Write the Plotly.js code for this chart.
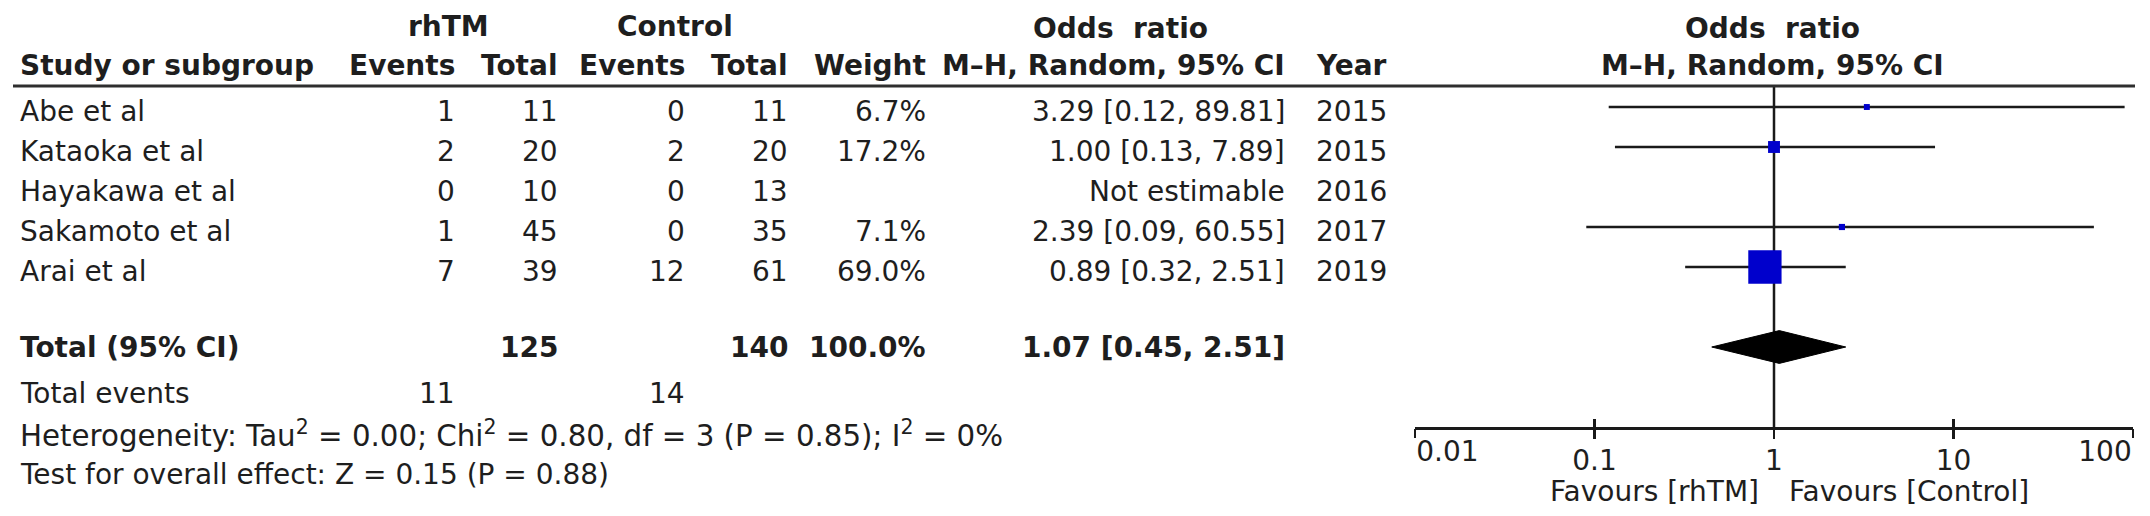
<!DOCTYPE html>
<html>
<head>
<meta charset="utf-8">
<script src="https://cdn.plot.ly/plotly-3.0.1.min.js"></script>
<style>html,body{margin:0;padding:0;background:#fff;}#chart{width:2150px;height:516px;}</style>
</head>
<body>
<div id="chart"></div>
<script>
// ---------------- data ----------------
const studies    = ['Abe et al', 'Kataoka et al', 'Hayakawa et al', 'Sakamoto et al', 'Arai et al'];
const rhtmEvents = [1, 2, 0, 1, 7];
const rhtmTotal  = [11, 20, 10, 45, 39];
const ctrlEvents = [0, 2, 0, 0, 12];
const ctrlTotal  = [11, 20, 13, 35, 61];
const weights    = [6.7, 17.2, null, 7.1, 69.0];
const orEst      = [3.29, 1.00, null, 2.39, 0.89];
const orLo       = [0.12, 0.13, null, 0.09, 0.32];
const orHi       = [89.81, 7.89, null, 60.55, 2.51];
const years      = [2015, 2015, 2016, 2017, 2019];

const totalLabel    = 'Total (95% CI)';
const totalRhtm     = 125;
const totalCtrl     = 140;
const totalWeight   = 100.0;
const pooledOR      = [1.07, 0.45, 2.51];   // estimate, lower, upper
const eventsRhtm    = 11;
const eventsCtrl    = 14;
const heterogeneity = 'Heterogeneity: Tau<sup>2</sup> = 0.00; Chi<sup>2</sup> = 0.80, df = 3 (P = 0.85); I<sup>2</sup> = 0%';
const overallTest   = 'Test for overall effect: Z = 0.15 (P = 0.88)';

const tickVals   = [0.01, 0.1, 1, 10, 100];
const tickLabels = ['0.01', '0.1', '1', '10', '100'];
const favourLeft  = 'Favours [rhTM]';
const favourRight = 'Favours [Control]';
const effectTitle = 'Odds\u00a0 ratio';
const methodTitle = 'M\u2013H, Random, 95% CI';

// ---------------- layout helpers ----------------
const W = 2150, H = 516;
const ROWPX = 40, ROW0 = 1.675;              // y value r sits at pixel 40*(r+1.675)
const FONT = 'DejaVu Sans';
const FS = 28;
const TXT = '#1e1e1e';
const LINE = '#1a1a1a';
const BLUE = '#0000cc';

const col = {  // x pixel of text anchor
  study: 18, rEv: 457, rTot: 560, cEv: 687, cTot: 790, wt: 928, or: 1287, yr: 1389,
  rhtmHead: 448, ctrlHead: 675, orHead: 1120, plotHead: 1772
};
const rowY = {head1: -1.02, orHead1: -0.975, head2: -0.05, textShift: 0.1,
  total: 7.0, events: 8.15, het: 9.17, test: 10.175, axis: 9.025, favours: 10.6, headLine: 0.475};

const annotations = [];
function ann(text, xpx, y, anchor, bold, size) {
  annotations.push({
    text: bold ? '<b>' + text + '</b>' : text,
    xref: 'paper', x: xpx / W, yref: 'y', y: y,
    xanchor: anchor, yanchor: 'middle', showarrow: false,
    font: {family: FONT, size: size || FS, color: TXT}
  });
}
const fmt2 = v => v.toFixed(2);
const ciText = (e, l, h) => fmt2(e) + ' [' + fmt2(l) + ', ' + fmt2(h) + ']';

// headers
ann('rhTM', col.rhtmHead, rowY.head1, 'center', true);
ann('Control', col.ctrlHead, rowY.head1, 'center', true);
ann(effectTitle, col.orHead, rowY.orHead1, 'center', true);
ann(effectTitle, col.plotHead, rowY.orHead1, 'center', true);
ann('Study or subgroup', col.study, rowY.head2, 'left', true);
ann('Events', col.rEv, rowY.head2, 'right', true);
ann('Total', col.rTot, rowY.head2, 'right', true);
ann('Events', col.cEv, rowY.head2, 'right', true);
ann('Total', col.cTot, rowY.head2, 'right', true);
ann('Weight', col.wt, rowY.head2, 'right', true);
ann(methodTitle, col.or, rowY.head2, 'right', true);
ann('Year', col.yr, rowY.head2, 'right', true);
ann(methodTitle, col.plotHead, rowY.head2, 'center', true);

// study rows
const rows = studies.map((s, i) => i + 1);
studies.forEach((s, i) => {
  const y = rows[i] + rowY.textShift;
  ann(s, col.study, y, 'left', false);
  ann(String(rhtmEvents[i]), col.rEv, y, 'right', false);
  ann(String(rhtmTotal[i]), col.rTot, y, 'right', false);
  ann(String(ctrlEvents[i]), col.cEv, y, 'right', false);
  ann(String(ctrlTotal[i]), col.cTot, y, 'right', false);
  if (weights[i] !== null) ann(weights[i].toFixed(1) + '%', col.wt, y, 'right', false);
  ann(orEst[i] === null ? 'Not estimable' : ciText(orEst[i], orLo[i], orHi[i]), col.or, y, 'right', false);
  ann(String(years[i]), col.yr, y, 'right', false);
});

// total rows
ann(totalLabel, col.study, rowY.total, 'left', true);
ann(String(totalRhtm), col.rTot, rowY.total, 'right', true);
ann(String(totalCtrl), col.cTot, rowY.total, 'right', true);
ann(totalWeight.toFixed(1) + '%', col.wt, rowY.total, 'right', true);
ann(ciText(pooledOR[0], pooledOR[1], pooledOR[2]), col.or, rowY.total, 'right', true);
ann('Total events', col.study, rowY.events, 'left', false);
ann(String(eventsRhtm), col.rEv, rowY.events, 'right', false);
ann(String(eventsCtrl), col.cEv, rowY.events, 'right', false);
ann(heterogeneity, col.study, rowY.het, 'left', false, 29.3);
ann(overallTest, col.study, rowY.test, 'left', false);

// favours labels (anchored on the axis at OR = 1)
annotations.push({text: favourLeft, xref: 'x', x: Math.log10(tickVals[2]), yref: 'y', y: rowY.favours,
  xanchor: 'right', yanchor: 'middle', xshift: -13, showarrow: false, font: {family: FONT, size: FS, color: TXT}});
annotations.push({text: favourRight, xref: 'x', x: Math.log10(tickVals[2]), yref: 'y', y: rowY.favours,
  xanchor: 'left', yanchor: 'middle', xshift: 13, showarrow: false, font: {family: FONT, size: FS, color: TXT}});

// ---------------- traces ----------------
const traces = [];
// line of no effect
traces.push({x: [tickVals[2], tickVals[2]], y: [rowY.headLine, rowY.axis], mode: 'lines',
  line: {color: LINE, width: 2.5}, hoverinfo: 'skip', showlegend: false});
// confidence intervals
const ciX = [], ciY = [];
orEst.forEach((e, i) => { if (e !== null) { ciX.push(orLo[i], orHi[i], null); ciY.push(rows[i], rows[i], null); } });
traces.push({x: ciX, y: ciY, mode: 'lines', line: {color: LINE, width: 2.5}, hoverinfo: 'skip', showlegend: false, connectgaps: false});
// study squares (area scaled from weight)
const sqX = [], sqY = [], sqS = [];
orEst.forEach((e, i) => { if (e !== null) { sqX.push(e); sqY.push(rows[i]); sqS.push(1.45 * Math.pow(weights[i], 0.74)); } });
traces.push({x: sqX, y: sqY, mode: 'markers', marker: {symbol: 'square', color: BLUE, opacity: 1, size: sqS, line: {width: 0}},
  showlegend: false});
// pooled diamond
const dh = 0.41;
traces.push({x: [pooledOR[1], pooledOR[0], pooledOR[2], pooledOR[0], pooledOR[1]],
  y: [rowY.total, rowY.total - dh, rowY.total, rowY.total + dh, rowY.total],
  mode: 'lines', fill: 'toself', fillcolor: '#000000', line: {color: '#000000', width: 1}, showlegend: false});
// invisible anchors so the overlay axes are drawn
['x2', 'x3', 'x4'].forEach(ax => traces.push({x: [tickVals[2]], y: [rowY.axis], xaxis: ax, yaxis: 'y',
  mode: 'markers', marker: {opacity: 0, size: 1}, hoverinfo: 'skip', showlegend: false}));

// ---------------- axes ----------------
const axisPos = 1 - (rowY.axis + ROW0) * ROWPX / H;
const dom = [1415 / W, 2133 / W];
const baseX = {type: 'log', range: [-2, 2], autorange: false, domain: dom, anchor: 'free', position: axisPos,
  showgrid: false, zeroline: false, fixedrange: true, ticklabelstandoff: -2,
  tickfont: {family: FONT, size: FS, color: TXT}, tickcolor: LINE, tickwidth: 2.5, ticklen: 9};

const layout = {
  width: W, height: H,
  margin: {l: 0, r: 0, t: 0, b: 0, pad: 0},
  paper_bgcolor: '#ffffff', plot_bgcolor: 'rgba(0,0,0,0)',
  showlegend: false,
  font: {family: FONT, size: FS, color: TXT},
  xaxis: Object.assign({}, baseX, {showline: true, linecolor: LINE, linewidth: 2.5, ticks: 'outside',
    tickmode: 'array', tickvals: tickVals.slice(1, 4), ticktext: tickLabels.slice(1, 4)}),
  xaxis2: Object.assign({}, baseX, {overlaying: 'x', showline: false, ticks: 'outside',
    tickmode: 'array', tickvals: tickVals.slice(0, 1), ticktext: tickLabels.slice(0, 1), ticklabelposition: 'outside right'}),
  xaxis3: Object.assign({}, baseX, {overlaying: 'x', showline: false, ticks: 'outside',
    tickmode: 'array', tickvals: tickVals.slice(4), ticktext: tickLabels.slice(4), ticklabelposition: 'outside left'}),
  xaxis4: Object.assign({}, baseX, {overlaying: 'x', showline: false, ticks: 'inside', showticklabels: false,
    tickmode: 'array', tickvals: tickVals}),
  yaxis: {range: [H / ROWPX - ROW0, -ROW0], autorange: false, domain: [0, 1], visible: false, showgrid: false, zeroline: false, fixedrange: true},
  shapes: [
    {type: 'line', xref: 'paper', x0: 13 / W, x1: 2135 / W, yref: 'y', y0: rowY.headLine, y1: rowY.headLine,
     line: {color: '#2e2e2e', width: 3}}
  ],
  annotations: annotations
};

Plotly.newPlot('chart', traces, layout, {staticPlot: true, displayModeBar: false});
</script>
</body>
</html>
